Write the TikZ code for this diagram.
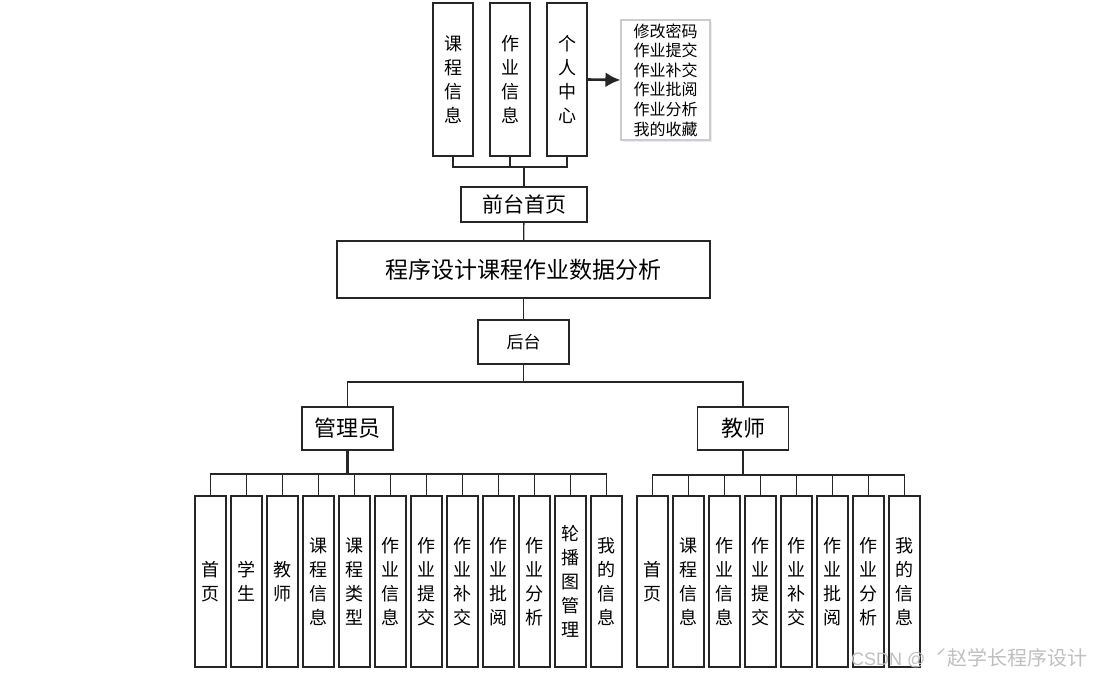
\documentclass[tikz,border=0pt]{standalone}
\usepackage{fontspec}
\newfontfamily\cjk{Noto Sans CJK SC}
\newfontfamily\latin{Liberation Sans}
\usetikzlibrary{arrows.meta,shadows}

\begin{document}
\begin{tikzpicture}[x=1pt, y=-1pt,
  block/.style={rectangle, draw=black!85, line width=1.3pt, fill=white, inner sep=0pt, align=center, font=\cjk\fontsize{18}{24}\selectfont},
  topbox/.style={block, minimum width=40pt, minimum height=153pt},
  vbox/.style={block, minimum width=31pt, minimum height=171pt},
  rolebox/.style={block, minimum width=91pt, minimum height=43pt, font=\cjk\fontsize{22}{26}\selectfont},
  line/.style={draw=black!85, line width=1.3pt}
]
\useasboundingbox (0,0) rectangle (1095,675);

% front end
\node [topbox] (course) at (453,79.5) {课\\程\\信\\息};
\node [topbox] (work) at (510,79.5) {作\\业\\信\\息};
\node [topbox] (center) at (567,79.5) {个\\人\\中\\心};
\node [block, draw=gray!40, line width=1.1pt, minimum width=89pt, minimum height=120pt,
  font=\cjk\fontsize{16}{19.6}\selectfont,
  drop shadow={shadow xshift=2pt, shadow yshift=-2pt, fill=blue!25, opacity=0.35}] (menu) at (665.5,80)
  {修改密码\\作业提交\\作业补交\\作业批阅\\作业分析\\我的收藏};
\node [block, minimum width=126pt, minimum height=35pt, font=\cjk\fontsize{21}{24}\selectfont] (front) at (524,204.5) {前台首页};

% system and back end
\node [block, minimum width=373pt, minimum height=57pt, font=\cjk\fontsize{23}{26}\selectfont] (system) at (523.5,269.5) {程序设计课程作业数据分析};
\node [block, minimum width=91pt, minimum height=44pt, font=\cjk\fontsize{17}{20}\selectfont] (back) at (523.5,342) {后台};
\node [rolebox] (admin) at (347.5,428.5) {管理员};
\node [rolebox] (teacher) at (743,428.5) {教师};

\foreach \t [count=\i from 0] in {首\\页, 学\\生, 教\\师, 课\\程\\信\\息, 课\\程\\类\\型, 作\\业\\信\\息, 作\\业\\提\\交, 作\\业\\补\\交, 作\\业\\批\\阅, 作\\业\\分\\析, 轮\\播\\图\\管\\理, 我\\的\\信\\息}
  \node [vbox] (a\i) at (210.5+36*\i,581.5) {\t};
\foreach \t [count=\i from 0] in {首\\页, 课\\程\\信\\息, 作\\业\\信\\息, 作\\业\\提\\交, 作\\业\\补\\交, 作\\业\\批\\阅, 作\\业\\分\\析, 我\\的\\信\\息}
  \node [vbox] (t\i) at (652.5+36*\i,581.5) {\t};

% connectors
\coordinate (fbus) at (524,167);
\path [line] (front.north) -- (fbus);
\foreach \n in {course, work, center}
  \path [line] (fbus) -| (\n.south);
\path [line, line width=2.6pt, -{Latex[length=15pt, width=15pt]}] (center.east) -- (menu.west);
\path [line] (front) -- (system);
\path [line] (system) -- (back);
\coordinate (rbus) at (523.5,382);
\path [line] (back.south) -- (rbus);
\path [line] (rbus) -| (admin.north);
\path [line] (rbus) -| (teacher.north);

\coordinate (abus) at (347.5,474);
\path [line, line width=2.2pt] (admin.south) -- (abus);
\foreach \i in {0,...,11}
  \path [line] (abus) -| (a\i.north);
\coordinate (tbus) at (743,475);
\path [line, line width=2.2pt] (teacher.south) -- (tbus);
\foreach \i in {0,...,7}
  \path [line] (tbus) -| (t\i.north);

\node [font=\cjk\fontsize{20}{22}\selectfont, text=gray!50, anchor=east] (mark) at (1091,658)
  {{\latin\fontsize{18}{20}\selectfont CSDN @\hspace{10pt}}ˊ赵学长程序设计};
\end{tikzpicture}
\end{document}
